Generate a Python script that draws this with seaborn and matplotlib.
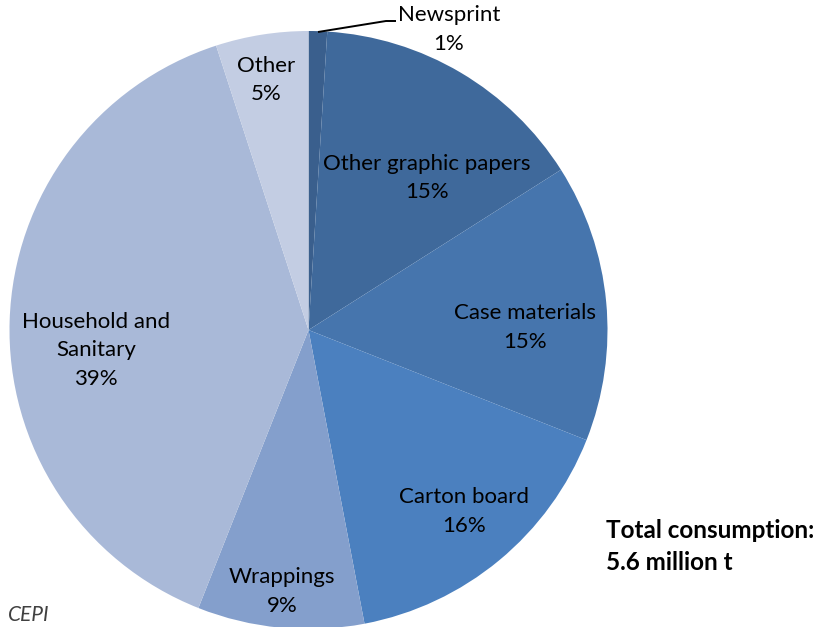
import matplotlib
matplotlib.use("Agg")
import matplotlib.pyplot as plt
import seaborn as sns

# Paper consumption by grade (share of total, %)
categories = ["Newsprint", "Other graphic papers", "Case materials", "Carton board",
              "Wrappings", "Household and\nSanitary", "Other"]
shares = [1, 15, 15, 16, 9, 39, 5]
colors = ["#3a5f8d", "#3f699b", "#4675ad", "#4b80bf", "#849fcc", "#a9b9d8", "#c3cde3"]

sns.set_theme(style="white")
plt.rcParams["font.family"] = ["Lato", "DejaVu Sans"]

W, H = 821, 627
fig = plt.figure(figsize=(W / 100, H / 100), dpi=100)
ax = fig.add_axes([0, 0, 1, 1])


def Y(y):
    # convert a top-down pixel row into axis units
    return H - y


cx, cy, r = 308.5, 330, 299
wedges, _ = ax.pie(shares, colors=colors, startangle=90, counterclock=False,
                   center=(cx, Y(cy)), radius=r, frame=True,
                   wedgeprops=dict(linewidth=0))
ax.set_xlim(0, W)
ax.set_ylim(0, H)
ax.set_aspect("equal")
ax.axis("off")

fs = 16
step = 28.5
# centre x and row of the first line of each slice label
label_pos = {
    "Newsprint": (449, 15),
    "Other graphic papers": (427, 164),
    "Case materials": (525, 313),
    "Carton board": (464, 497),
    "Wrappings": (282, 577),
    "Household and\nSanitary": (96, 322),
    "Other": (266, 66),
}
for name, val in zip(categories, shares):
    x, y = label_pos[name]
    lines = name.split("\n") + [f"{val}%"]
    for i, line in enumerate(lines):
        ax.text(x, Y(y + i * step), line, ha="center", va="center", fontsize=fs,
                color="black")

# leader line for the thin newsprint slice
ax.plot([318, 386, 396], [Y(32), Y(21), Y(21)], color="black", lw=1.4,
        solid_capstyle="butt")

ax.text(606, Y(531), "Total consumption:", ha="left", va="center",
        fontsize=17.5, fontweight="bold", color="black")
ax.text(606, Y(562), "5.6 million t", ha="left", va="center",
        fontsize=17.5, fontweight="bold", color="black")
ax.text(8, Y(621), "CEPI", ha="left", va="baseline", fontsize=15, fontstyle="italic",
        color="#404040")

fig.savefig("out.png", dpi=100)
